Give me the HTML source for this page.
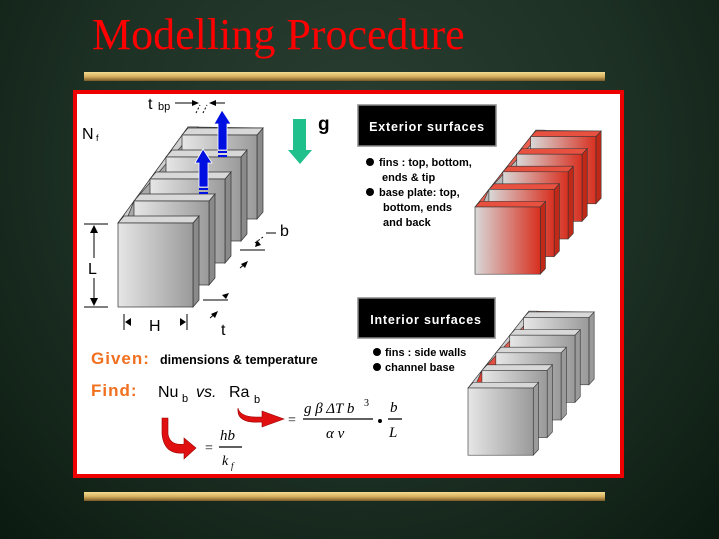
<!DOCTYPE html>
<html><head><meta charset="utf-8"><style>
html,body{margin:0;padding:0}
body{width:719px;height:539px;overflow:hidden;background:radial-gradient(ellipse at 50% 30%,#2a3f32 0%,#1d3024 55%,#0b1a10 100%);position:relative;font-family:"Liberation Sans",sans-serif}
.bar{position:absolute;left:84px;width:521px;height:9px;background:linear-gradient(#f4dc90,#d8b060 50%,#7a5a28)}
</style></head><body>
<div style="position:absolute;left:92px;top:9px;font:44px 'Liberation Serif',serif;color:#f00">Modelling Procedure</div>
<div class="bar" style="top:72px"></div>
<div class="bar" style="top:492px"></div>
<div style="position:absolute;left:73px;top:90px;width:543px;height:380px;border:4px solid #e00;background:#fff"></div>
<svg width="719" height="539" style="position:absolute;left:0;top:0" font-family="Liberation Sans, sans-serif">
<defs>
<linearGradient id="gf" x1="0" x2="1"><stop offset="0" stop-color="#e6e6e6"/><stop offset="1" stop-color="#9a9a9a"/></linearGradient>
<linearGradient id="rf" x1="0" x2="1"><stop offset="0" stop-color="#d8d8d8"/><stop offset="1" stop-color="#d83020"/></linearGradient>
<linearGradient id="ri" x1="0" x2="1"><stop offset="0" stop-color="#e03020"/><stop offset="1" stop-color="#e8c8c0"/></linearGradient>
<g id="fin">
<polygon points="75,0 81,-7 81,77 75,84" style="fill:var(--side)" stroke="#333" stroke-width="0.7"/>
<polygon points="0,0 6,-7 81,-7 75,0" style="fill:var(--top)" stroke="#333" stroke-width="0.7"/>
<rect x="0" y="0" width="75" height="84" style="fill:var(--front)" stroke="#333" stroke-width="0.7"/>
</g>
<g id="sink">
<polygon points="0,0 70,-96 145,-95 75,0" style="fill:var(--gap)" stroke="#333" stroke-width="0.7"/>
<polygon points="0,0 70,-96 80,-96 16,-22 10,-7" style="fill:var(--plate)" stroke="#333" stroke-width="0.7"/>
<use href="#fin" x="64" y="-88"/>
<use href="#fin" x="48" y="-66"/>
<use href="#fin" x="32" y="-44"/>
<use href="#fin" x="16" y="-22"/>
<use href="#fin" x="0" y="0"/>
</g>
</defs>
<use href="#sink" transform="translate(118,223)" style="--front:url(#gf);--side:#8a8a8a;--top:#d8d8d8;--gap:#a8a8a8;--plate:#d0d0d0"/>
<use href="#sink" transform="translate(475,207) scale(0.87,0.8)" style="--front:url(#rf);--side:#c02818;--top:#e85040;--gap:#b8b8b8;--plate:#e86050"/>
<use href="#sink" transform="translate(468,388) scale(0.87,0.8)" style="--front:url(#gf);--side:#9a9a9a;--top:#d8d8d8;--gap:url(#ri);--plate:#d0d0d0"/>
<polygon points="222,110 231,124 227,124 227,150 218,150 218,124 214,124" fill="#0010e0" stroke="#fff" stroke-width="0.8"/>
<rect x="218" y="151" width="9" height="2" fill="#0010e0"/><rect x="218" y="155" width="9" height="2" fill="#0010e0"/>
<polygon points="203,149 212,163 208,163 208,187 199,187 199,163 195,163" fill="#0010e0" stroke="#fff" stroke-width="0.8"/>
<rect x="199" y="188" width="9" height="2" fill="#0010e0"/><rect x="199" y="192" width="9" height="2" fill="#0010e0"/>
<polygon points="293,119 306,119 306,150 312,150 300,164 288,150 293,150" fill="#20c08c"/>
<g stroke="#000" stroke-width="1" fill="#000">
<line x1="84" y1="224" x2="108" y2="224"/><line x1="84" y1="307" x2="108" y2="307"/>
<line x1="94" y1="226" x2="94" y2="258"/><line x1="94" y1="278" x2="94" y2="305"/>
<polygon points="94,225 90,233 98,233" stroke="none"/><polygon points="94,306 90,298 98,298" stroke="none"/>
<line x1="124" y1="314" x2="124" y2="330"/><line x1="187" y1="314" x2="187" y2="330"/>
<polygon points="125,322 131,318 131,326" stroke="none"/><polygon points="186,322 180,318 180,326" stroke="none"/>
<line x1="175" y1="103" x2="196" y2="103"/><polygon points="199,103 192,100 192,106" stroke="none"/>
<line x1="212" y1="103" x2="225" y2="103"/><polygon points="209,103 216,100 216,106" stroke="none"/>
<line x1="196" y1="113" x2="200" y2="105" stroke-dasharray="2,2"/><line x1="203" y1="113" x2="207" y2="105" stroke-dasharray="2,2"/>
<line x1="240" y1="250" x2="265" y2="250"/><line x1="266" y1="233" x2="276" y2="233"/>
<line x1="255" y1="243" x2="263" y2="237" stroke-dasharray="2,2"/><polygon points="255,247 257,240 261,245" stroke="none"/>
<line x1="240" y1="268" x2="246" y2="263"/><polygon points="248,261 241,264 245,268" stroke="none"/>
<line x1="203" y1="300" x2="228" y2="300"/><polygon points="229,293 222,295 226,299" stroke="none"/>
<line x1="210" y1="318" x2="216" y2="313"/><polygon points="218,311 211,314 215,318" stroke="none"/>
</g>
<g fill="#000">
<text x="148" y="109" font-size="16">t</text><text x="158" y="110" font-size="11">bp</text>
<text x="82" y="139" font-size="16">N</text><text x="96" y="141" font-size="9">f</text>
<text x="318" y="130" font-size="19" font-weight="bold">g</text>
<text x="280" y="236" font-size="16">b</text>
<text x="88" y="274" font-size="16">L</text>
<text x="149" y="331" font-size="16">H</text>
<text x="221" y="335" font-size="16">t</text>
</g>
<rect x="358" y="105" width="138" height="41" fill="#000" stroke="#888" stroke-width="1.5"/>
<text x="427" y="131" font-size="12.5" font-weight="bold" fill="#fff" text-anchor="middle" letter-spacing="0.8">Exterior surfaces</text>
<rect x="358" y="298" width="137" height="40" fill="#000" stroke="#888" stroke-width="1.5"/>
<text x="426" y="324" font-size="12.5" font-weight="bold" fill="#fff" text-anchor="middle" letter-spacing="0.8">Interior surfaces</text>
<g font-size="11" font-weight="bold" fill="#000">
<circle cx="370" cy="162" r="4"/><text x="379" y="166">fins : top, bottom,</text>
<text x="382" y="181">ends &amp; tip</text>
<circle cx="370" cy="192" r="4"/><text x="379" y="196">base plate: top,</text>
<text x="383" y="211">bottom, ends</text>
<text x="383" y="226">and back</text>
<circle cx="377" cy="352" r="4"/><text x="385" y="356">fins : side walls</text>
<circle cx="377" cy="367" r="4"/><text x="385" y="371">channel base</text>
</g>
<text x="91" y="364" font-size="17" font-weight="bold" fill="#f07020" letter-spacing="1">Given:</text>
<text x="160" y="364" font-size="12.5" font-weight="bold" fill="#000">dimensions &amp; temperature</text>
<text x="91" y="396" font-size="17" font-weight="bold" fill="#f07020" letter-spacing="1">Find:</text>
<text x="158" y="397" font-size="16" fill="#000">Nu</text><text x="182" y="402" font-size="11">b</text>
<text x="196" y="397" font-size="16" font-style="italic">vs.</text>
<text x="229" y="397" font-size="16">Ra</text><text x="254" y="403" font-size="11">b</text>
<path d="M168,418 L168,434 Q170,446 184,444 L184,438 L196,448 L184,459 L184,453 Q164,455 162,434 L162,418 Z" fill="#e01010" stroke="#900" stroke-width="0.6"/>
<path d="M238,408 Q240,418 262,417 L262,411 L284,419 L262,427 L262,422 Q236,424 238,408 Z" fill="#e01010" stroke="#900" stroke-width="0.6"/>
<g font-family="Liberation Serif, serif" fill="#000">
<text x="205" y="452" font-size="14">=</text>
<text x="220" y="440" font-size="15" font-style="italic">hb</text>
<line x1="219" y1="447" x2="242" y2="447" stroke="#000" stroke-width="1.3"/>
<text x="222" y="465" font-size="14" font-style="italic">k</text><text x="231" y="469" font-size="9" font-style="italic">f</text>
<text x="288" y="424" font-size="14">=</text>
<text x="304" y="413" font-size="15" font-style="italic">g β ΔT b</text><text x="364" y="406" font-size="10">3</text>
<line x1="303" y1="419" x2="373" y2="419" stroke="#000" stroke-width="1.3"/>
<text x="326" y="438" font-size="15" font-style="italic">α ν</text>
<circle cx="380" cy="421" r="2"/>
<text x="390" y="412" font-size="15" font-style="italic">b</text>
<line x1="388" y1="419" x2="402" y2="419" stroke="#000" stroke-width="1.3"/>
<text x="389" y="437" font-size="15" font-style="italic">L</text>
</g>
</svg>
</body></html>
